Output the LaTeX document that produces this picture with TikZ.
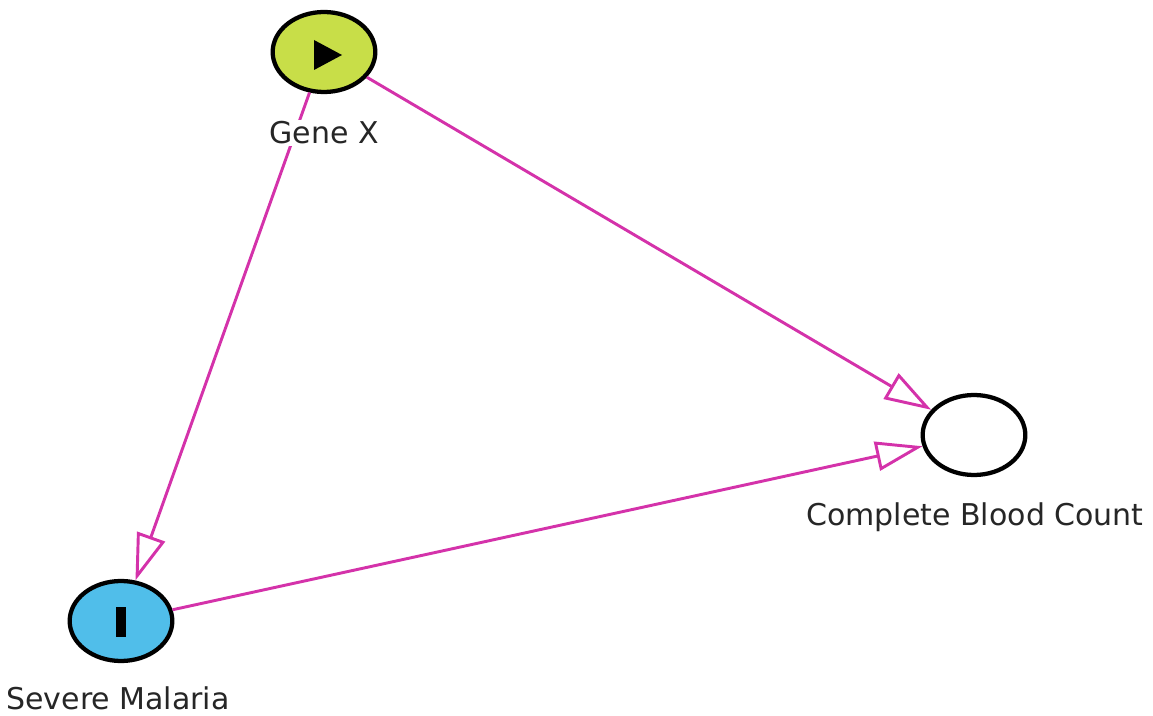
\documentclass[tikz,border=0pt]{standalone}
\usepackage{fontspec}
\setmainfont{DejaVu Sans}
\usetikzlibrary{arrows.meta,shapes.geometric}
\definecolor{edgec}{RGB}{212,50,170}
\definecolor{greenc}{RGB}{200,222,72}
\definecolor{bluec}{RGB}{80,190,234}
\tikzset{
  var/.style={ellipse,draw=black,line width=3.2pt,minimum width=77pt,minimum height=60pt,inner sep=0pt},
  lab/.style={fill=white,inner sep=1pt,font=\fontsize{22.5}{26}\selectfont,text=black!85},
  arr/.style={draw=edgec,line width=2.2pt,-{Triangle[open,length=35pt,width=22pt,line width=2.2pt]}}
}
\begin{document}
\begin{tikzpicture}[x=0.75pt,y=-0.75pt]
\useasboundingbox (0,0) rectangle (1153,716);
\node[var,fill=greenc] (gx) at (324,52) {};
\node[var,fill=bluec] (sm) at (121,621) {};
\node[var,fill=white] (cbc) at (974,435) {};
\fill[black] (314,40) -- (342,55) -- (314,70) -- cycle;
\fill[black] (116,607) rectangle (126,637);
\draw[arr] (gx) -- (sm);
\draw[arr] (gx) -- (cbc);
\draw[arr] (sm) -- (cbc);
\node[lab] (gxl) at (324,133) {Gene X};
\node[lab] (sml) at (118,698) {Severe Malaria};
\node[lab] (cbcl) at (975,517) {Complete Blood Count};
\end{tikzpicture}
\end{document}
